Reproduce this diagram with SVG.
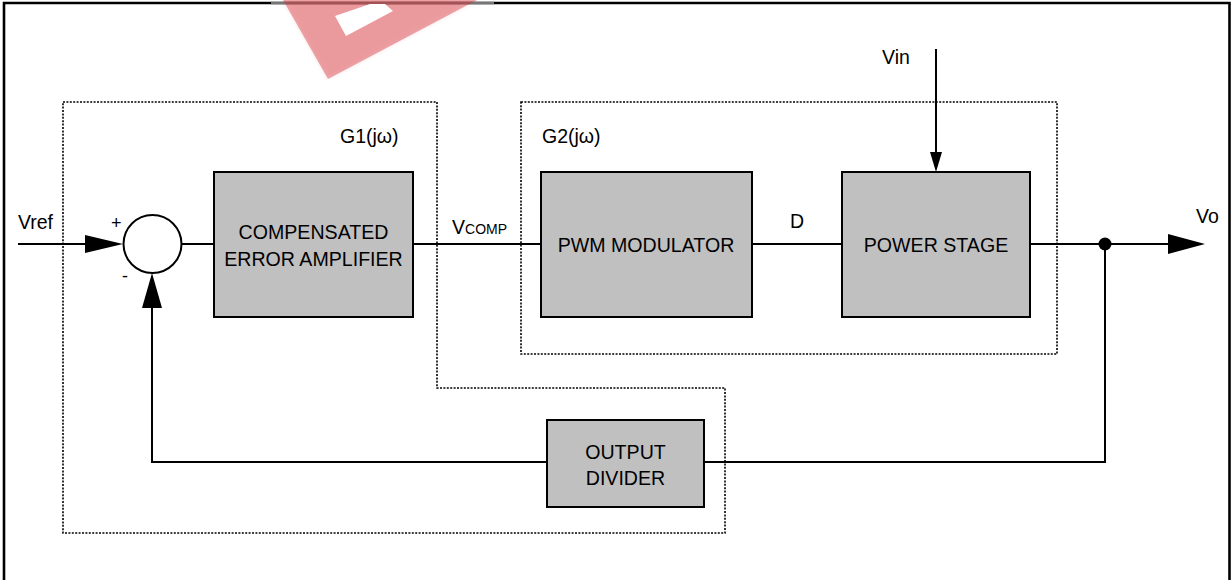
<svg xmlns="http://www.w3.org/2000/svg" width="1231" height="580" viewBox="0 0 1231 580">
<defs>
<style>
.t{font-family:"Liberation Sans",Arial,sans-serif;fill:#000}
.blk{fill:#c0c0c0;stroke:#000;stroke-width:2}
.ln{stroke:#000;stroke-width:2;fill:none}
.dot{stroke:#000;stroke-width:1.6;fill:none;stroke-dasharray:2 1.4}
</style>
<filter id="blur" x="-20%" y="-20%" width="140%" height="140%"><feGaussianBlur stdDeviation="2"/></filter>
</defs>
<rect width="1231" height="580" fill="#fff"/>
<g id="frame">
<path d="M4,580 V3 H1229.5 V580" fill="none" stroke="#000" stroke-width="2.6"/>
<line x1="271" y1="3" x2="494" y2="3" stroke="#777" stroke-width="2.6"/>
</g>
<g id="watermark">
<polygon points="283,0 328,79 477,0" fill="#d42a32" opacity="0.12" filter="url(#blur)"/>
<polygon points="283,0 328,79 477,0" fill="#d42a32" opacity="0.4"/>
<polygon points="335,16 346,36 393,11 385,4 370,4" fill="#fff"/>
</g>
<g id="boundaries">
<path id="g1-boundary" class="dot" d="M63,102 H437 V388 H725 V533 H63 Z"/>
<path id="g2-boundary" class="dot" d="M521,102 H1057 V354 H521 Z"/>
<text class="t" x="340" y="143" font-size="19.5">G1(jω)</text>
<text class="t" x="542" y="143" font-size="19.5">G2(jω)</text>
</g>
<g id="connectors">
<line class="ln" x1="18" y1="244" x2="88" y2="244"/>
<polygon points="85,235 123,244 85,253" fill="#000"/>
<line class="ln" x1="181.5" y1="244" x2="214" y2="244"/>
<line class="ln" x1="413" y1="244" x2="541" y2="244"/>
<line class="ln" x1="752" y1="244" x2="842" y2="244"/>
<line class="ln" x1="1030" y1="244" x2="1170" y2="244"/>
<polygon points="1168,234 1205,244 1168,254" fill="#000"/>
<circle cx="1105" cy="244" r="6.5" fill="#000"/>
<polyline class="ln" points="1105,244 1105,462 704,462"/>
<polyline class="ln" points="547,462 152,462 152,305"/>
<polygon points="142,308 152,273 162,308" fill="#000"/>
<line class="ln" x1="936" y1="49" x2="936" y2="155"/>
<polygon points="930,152 936,172 942,152" fill="#000"/>
<text class="t" x="18" y="229" font-size="19.5">Vref</text>
<text class="t" x="111" y="229" font-size="18">+</text>
<text class="t" x="122" y="282" font-size="18">-</text>
<text class="t" x="452" y="234" font-size="19.5">V<tspan font-size="14">COMP</tspan></text>
<text class="t" x="790" y="228" font-size="19.5">D</text>
<text class="t" x="1196" y="223" font-size="19.5">Vo</text>
<text class="t" x="882" y="64" font-size="19.5">Vin</text>
</g>
<g id="sum">
<circle cx="152.5" cy="244" r="29" fill="#fff" stroke="#000" stroke-width="2"/>
</g>
<g id="compensated-error-amplifier">
<rect class="blk" x="214" y="172" width="199" height="145"/>
<text class="t" x="313.5" y="239" font-size="19.6" text-anchor="middle">COMPENSATED</text>
<text class="t" x="313.5" y="266" font-size="19.6" text-anchor="middle">ERROR AMPLIFIER</text>
</g>
<g id="pwm-modulator">
<rect class="blk" x="541" y="172" width="211" height="145"/>
<text class="t" x="646" y="252" font-size="19.6" text-anchor="middle">PWM MODULATOR</text>
</g>
<g id="power-stage">
<rect class="blk" x="842" y="172" width="188" height="145"/>
<text class="t" x="936" y="252" font-size="19.6" text-anchor="middle">POWER STAGE</text>
</g>
<g id="output-divider">
<rect class="blk" x="547" y="420" width="157" height="87"/>
<text class="t" x="625.5" y="459" font-size="19.6" text-anchor="middle">OUTPUT</text>
<text class="t" x="625.5" y="485" font-size="19.6" text-anchor="middle">DIVIDER</text>
</g>
</svg>
